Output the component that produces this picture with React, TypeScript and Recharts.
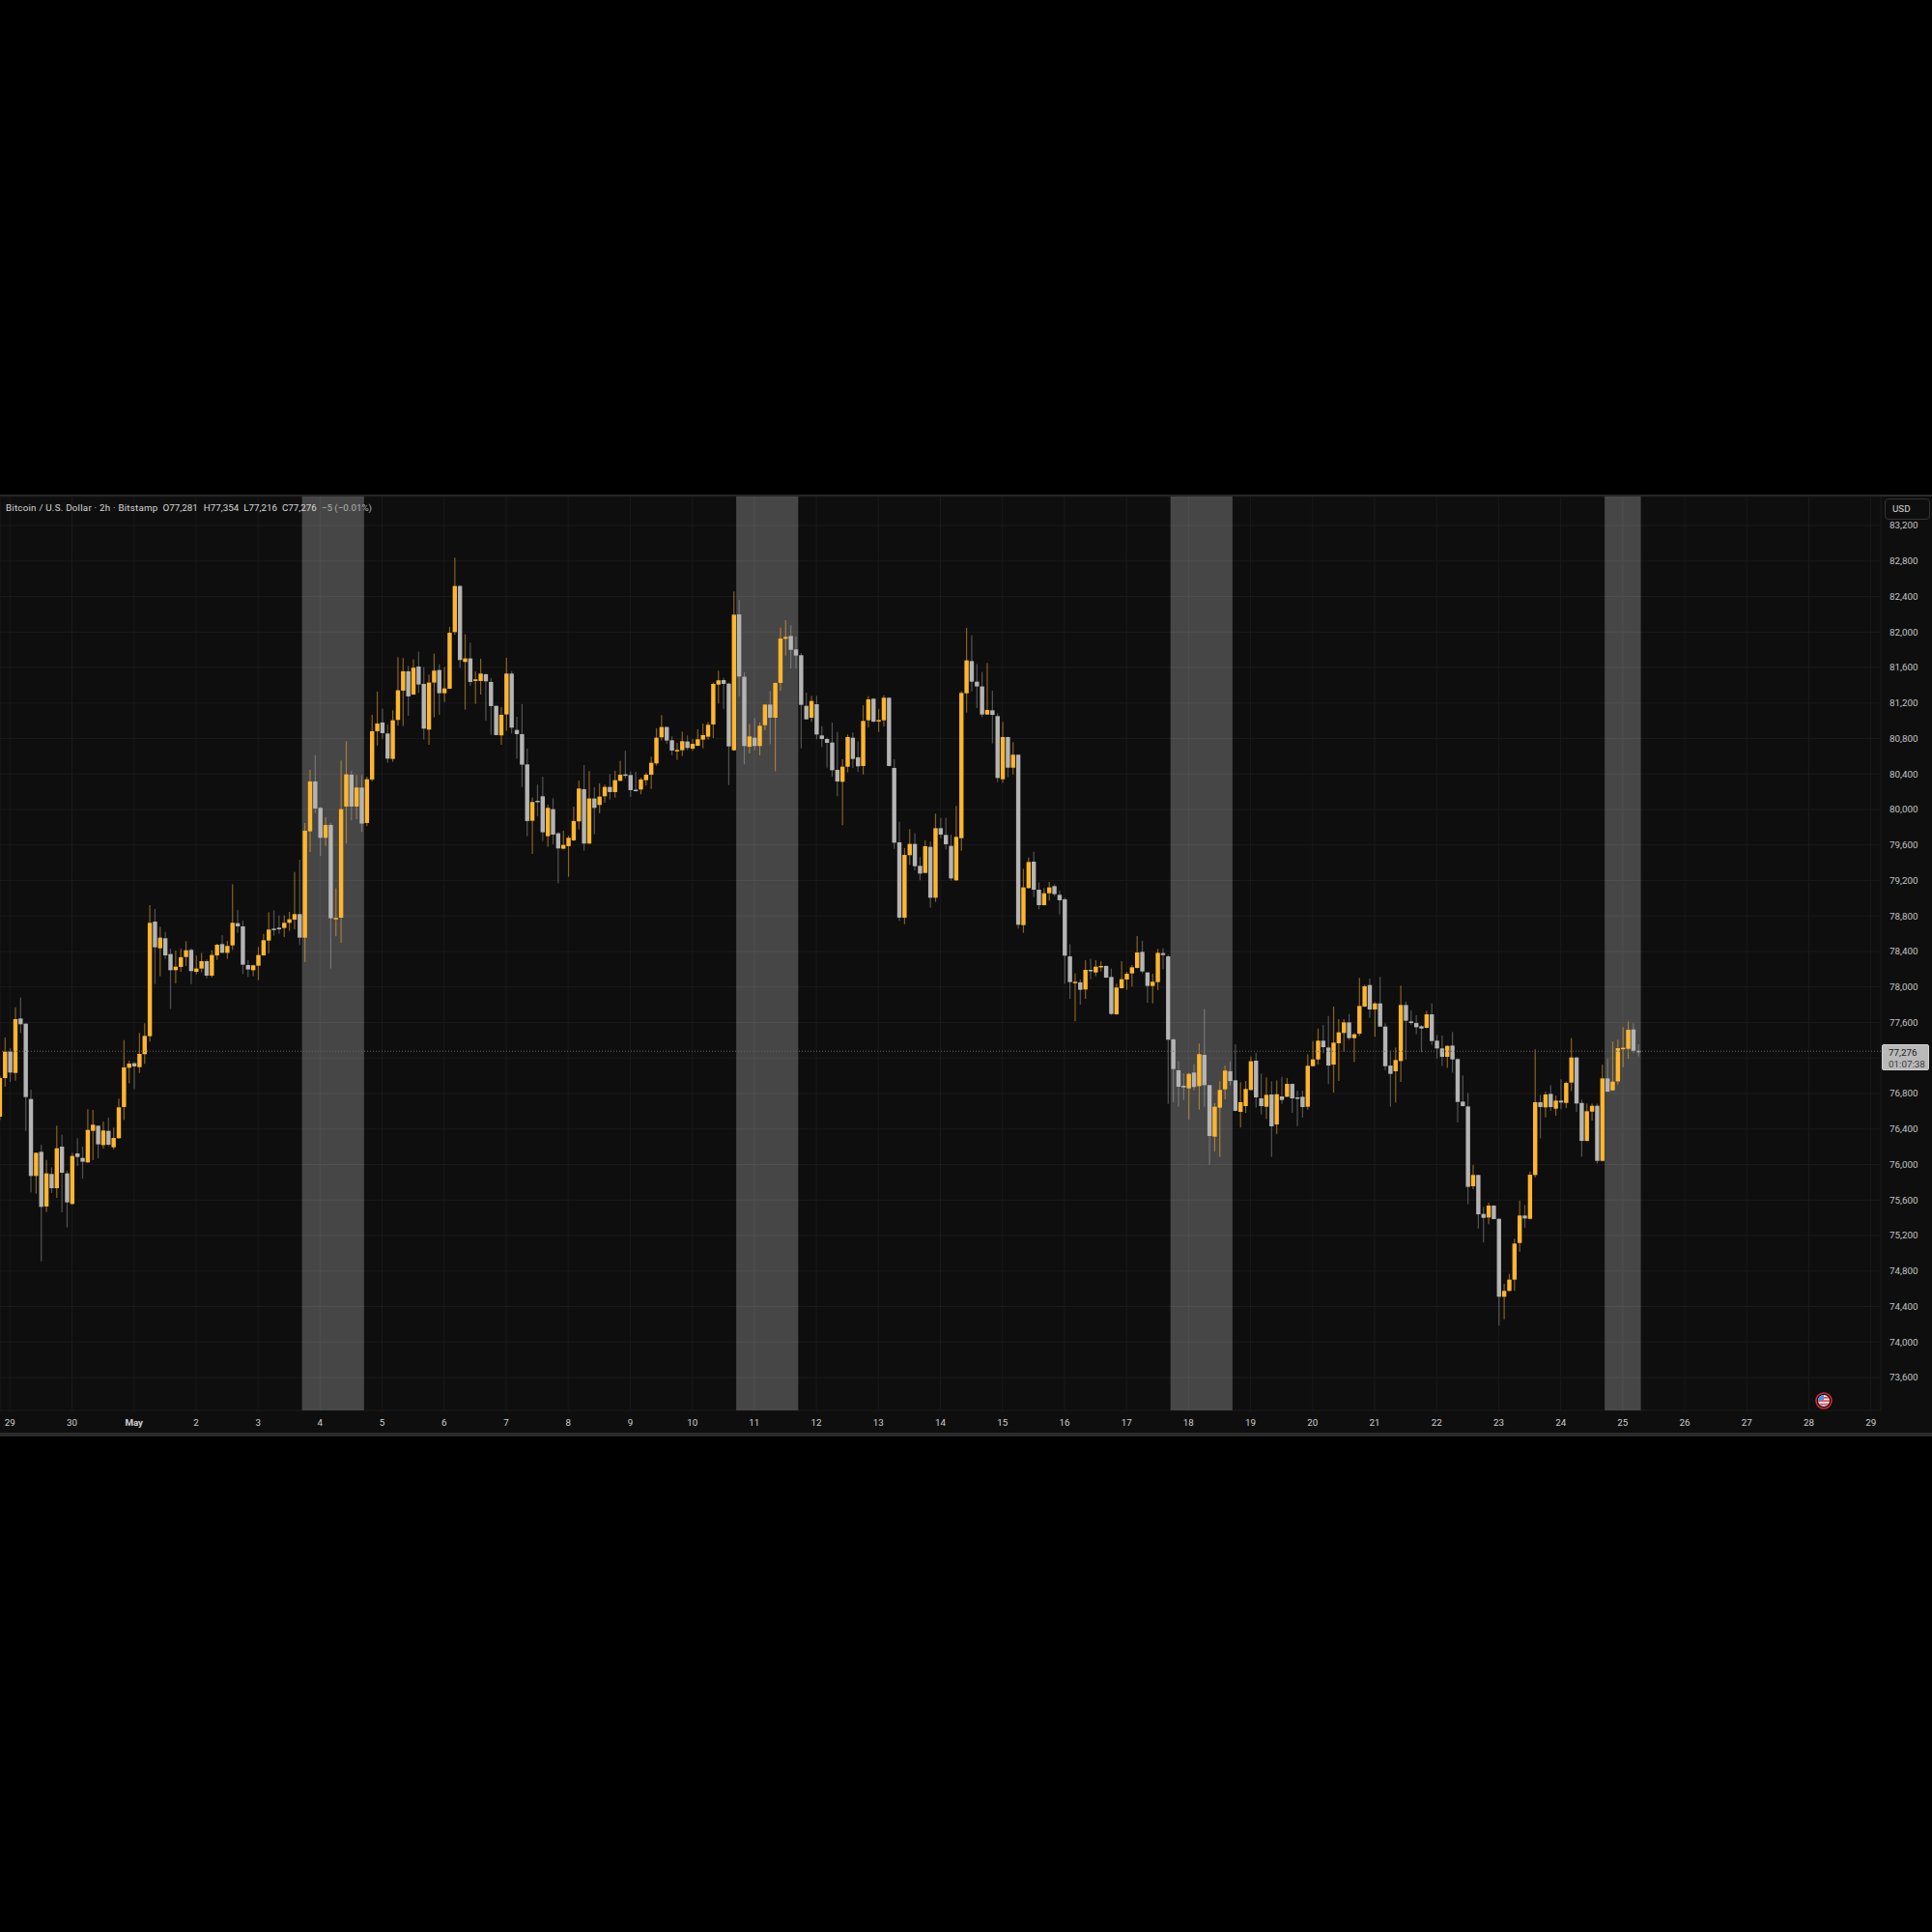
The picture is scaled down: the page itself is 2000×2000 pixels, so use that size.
import { Bar, CartesianGrid, ComposedChart, ReferenceArea, ReferenceLine, XAxis, YAxis } from "recharts";

// 2h candles. Index 2 is Apr 29 00:00, 12 candles per day.
const opens = [
  76539,76974,77272,77032,77645,77587,76738,75871,76143,75527,
  75893,75733,76201,75900,75556,76125,76074,76024,76379,76437,
  76219,76379,76194,76296,76648,77090,77141,77097,77243,77446,
  78737,78436,78549,78371,78189,78226,78338,78418,78171,78208,
  78291,78128,78356,78483,78385,78469,78719,78683,78247,78189,
  78240,78356,78523,78657,78668,78665,78723,78759,78821,78556,
  79754,80316,80018,79681,79826,78774,78781,80033,80392,80033,
  80247,79848,80338,80882,80980,80856,80570,81009,81339,81557,
  81295,81611,81415,80900,81430,81571,81310,81361,81999,82518,
  81662,81702,81448,81448,81524,81437,81168,80835,81071,81531,
  80896,80849,80508,79873,80098,80149,79699,80004,79732,79558,
  79587,79652,79866,80229,79616,80124,80051,80149,80254,80196,
  80323,80396,80388,80222,80225,80330,80392,80519,80813,80929,
  80780,80664,80668,80766,80686,80718,80787,80820,80958,81407,
  81458,81418,80667,82198,81495,80707,80809,80715,80950,81182,
  81034,81426,81923,81955,81803,81738,81168,81034,81186,80834,
  80794,80754,80446,80312,80482,80809,80588,80490,81005,81248,
  80997,81005,81259,80468,79630,78781,79485,79612,79365,79285,
  79579,79006,79789,79713,79590,79202,79677,81309,81672,81440,
  81386,81070,81117,81052,80341,80816,80471,80617,78697,79115,
  79412,79096,78922,79056,79136,79038,78988,78345,78044,78052,
  77972,78193,78164,78229,78237,78113,77692,77986,78084,78153,
  78215,78396,78164,78012,78055,78382,78345,77409,77061,76887,
  76858,77036,76883,77235,76894,76314,76640,76847,77050,76949,
  76593,76658,76840,77170,76746,76651,76789,76451,76767,76763,
  76908,76756,76763,76651,77108,77184,77395,77318,77126,77366,
  77482,77601,77424,77474,77779,78022,77747,77815,77554,77115,
  77050,77166,77797,77612,77594,77558,77540,77692,77395,77308,
  77213,77340,77188,76709,76654,75755,75882,75443,75403,75537,
  75388,74510,74576,74703,75116,75425,75388,75882,76702,76644,
  76796,76629,76720,76694,76923,77206,76694,76266,76596,76662,
  76041,76970,76836,76937,77308,77304,77522,77281,
];

const closes = [
  76974,77272,77036,77638,77580,76760,75871,76132,75523,75900,
  75733,76183,75907,75574,76096,76085,76031,76390,76448,76227,
  76383,76223,76299,76644,77094,77137,77105,77246,77449,78723,
  78447,78556,78356,78189,78229,78335,78414,78179,78208,78291,
  78128,78360,78476,78385,78462,78723,78683,78251,78197,78244,
  78360,78527,78647,78650,78650,78723,78763,78821,78556,79761,
  80316,80011,79681,79826,78774,78778,80004,80396,80033,80247,
  79841,80341,80882,80969,80860,80573,81005,81343,81557,81274,
  81597,81408,80911,81430,81564,81310,81364,81992,82518,81684,
  81702,81437,81466,81531,81444,81165,80838,81067,81531,80922,
  80849,80505,79870,80084,80091,79743,80018,79717,79561,79601,
  79681,79870,80236,79616,80124,80018,80145,80254,80196,80330,
  80392,80385,80218,80211,80338,80392,80526,80809,80929,80777,
  80664,80671,80769,80693,80740,80791,80838,80954,81415,81455,
  81415,80711,82195,81498,80715,80823,80715,80943,81182,81034,
  81426,81926,81944,81799,81734,81179,81016,81222,80845,80794,
  80751,80442,80315,80482,80816,80569,80486,80997,81241,80990,
  81008,81259,80490,79626,78781,79488,79612,79361,79278,79586,
  79006,79789,79717,79608,79223,79691,81313,81680,81440,81386,
  81070,81121,81066,80355,80816,80471,80617,78701,79122,79408,
  79096,78922,79056,79122,79046,78977,78353,78055,78059,77968,
  78193,78182,78229,78237,78106,77696,77994,78088,78150,78222,
  78389,78175,78012,78059,78385,78360,77406,77076,76876,76869,
  77021,76873,77243,76894,76321,76651,76840,77058,76941,76604,
  76702,76851,77163,76756,76658,76785,76430,76792,76727,76908,
  76745,76749,76647,77112,77184,77395,77322,77115,77373,77489,
  77601,77424,77467,77786,78008,77747,77815,77554,77108,77021,
  77177,77797,77620,77594,77547,77532,77692,77391,77308,77213,
  77337,77184,76705,76658,75748,75882,75439,75399,75537,75385,
  74510,74576,74703,75109,75425,75392,75885,76702,76647,76789,
  76647,76720,76698,76919,77206,76687,76266,76600,76662,76041,
  76970,76821,76934,77311,77315,77518,77281,77276,
];

const highs = [
  77000,77431,77312,77772,77881,77590,76843,76135,76223,76053,
  75969,76437,76336,75933,76132,76296,76201,76622,76615,76441,
  76484,76528,76415,76742,77402,77170,77155,77482,77591,78922,
  78879,78679,78621,78433,78411,78433,78516,78436,78353,78385,
  78313,78414,78487,78585,78520,79158,78868,78745,78302,78251,
  78451,78599,78842,78864,78806,78806,78846,79296,79434,79848,
  80446,80613,80029,79913,79848,79111,80552,80769,80436,80388,
  80388,80370,81067,81328,81136,80958,81118,81716,81705,81618,
  81691,81778,81607,81520,81756,81636,81604,82057,82837,82529,
  81974,81880,81557,81698,81531,81480,81170,81154,81709,81560,
  81045,81187,80686,80134,80280,80370,80055,80127,79743,79761,
  79706,80033,80327,80501,80432,80251,80294,80280,80399,80436,
  80548,80661,80428,80425,80359,80414,80595,80915,81063,80936,
  80827,80751,80878,80835,80795,80903,80968,80987,81429,81563,
  81484,81429,82456,82362,81545,80965,81030,80979,81185,81335,
  81430,82050,82133,82075,81948,81763,81317,81280,81280,80939,
  80809,80979,80874,80566,80845,80867,80769,81175,81277,81255,
  81132,81288,81266,80566,79862,79564,79778,79731,79463,79651,
  79641,79953,79905,79905,79717,80040,81335,82046,81963,81640,
  81549,81651,81338,81085,80987,80820,80758,80620,79332,79459,
  79524,79180,79115,79183,79158,79086,79006,78483,78153,78084,
  78302,78320,78302,78291,78244,78208,78037,78291,78171,78248,
  78574,78520,78168,78150,78429,78436,78364,77424,77166,77029,
  77032,77130,77362,77750,76898,76691,76938,77116,77163,77355,
  76927,76941,77217,77257,77025,76981,76937,76948,76988,76974,
  76912,76832,76832,77242,77391,77532,77572,77674,77779,77638,
  77638,77696,77482,78102,78026,78095,77830,78113,77591,77286,
  77318,78015,77837,77739,77681,77572,77732,77815,77460,77453,
  77340,77493,77195,77003,76807,75994,75885,75523,75570,75544,
  75395,74656,74768,75163,75592,75544,75922,77297,76785,76821,
  76894,76778,76959,76934,77424,77210,76734,76687,76687,76687,
  77126,77191,77387,77406,77547,77612,77591,77354,
];

const lows = [
  76500,76876,76931,76945,77482,76379,75686,75672,74910,75465,
  75679,75624,75461,75291,75545,75984,75842,76016,76049,76071,
  76180,76205,76169,76292,76502,76916,76851,77032,77134,77384,
  78033,78121,78316,77754,78041,78171,78237,78033,78142,78164,
  78099,78106,78306,78382,78316,78418,78610,78146,78113,78121,
  78077,78353,78378,78578,78599,78563,78632,78650,78473,78280,
  79521,79957,79474,79590,78208,78571,78498,79616,79877,79891,
  79746,79812,80316,80719,80795,80526,80537,80944,80940,81056,
  81292,81314,80788,80729,81038,81067,81212,81357,81970,81597,
  81125,81393,81190,81295,81002,80842,80835,80729,80885,80856,
  80573,80254,79699,79500,79924,79645,79579,79608,79169,79550,
  79242,79645,79775,79536,79612,79721,79957,80076,80113,80134,
  80319,80352,80142,80203,80171,80269,80232,80494,80777,80740,
  80613,80559,80602,80668,80661,80715,80689,80787,80805,81193,
  81132,80275,80660,81273,80508,80631,80667,80609,80892,80736,
  80431,81338,81734,81589,81589,80689,81012,80987,80791,80704,
  80471,80370,80149,79822,80417,80468,80424,80395,80925,80976,
  80874,80936,80486,79557,78744,78708,79376,79314,79202,79281,
  78893,78959,79673,79550,79198,79194,79535,81092,81331,81143,
  81041,81066,80744,80308,80301,80363,80395,78657,78610,79107,
  79013,78875,78919,78973,79020,78817,78037,77867,77613,77801,
  77867,78088,78121,78175,78099,77685,77688,77983,77968,78004,
  78208,78153,77823,77816,77965,78200,76684,76702,76651,76727,
  76506,76836,76619,76651,75998,76147,76085,76735,76891,76600,
  76415,76582,76833,76640,76564,76513,76085,76343,76684,76760,
  76582,76433,76528,76618,77104,77126,77253,76905,76811,76941,
  77271,77402,77155,77449,77776,77652,77438,77550,77064,76651,
  76698,76930,77181,77572,77467,77264,77532,77347,77195,77112,
  77090,77035,76473,76654,75552,75722,75279,75123,75327,75381,
  74184,74256,74572,74576,75018,75287,75384,75856,76295,76531,
  76604,76549,76622,76636,76825,76593,76089,76262,76495,76012,
  76034,76818,76829,76901,77097,77191,77257,77216,
];

// weekend session bands, in candle indexes
const bandStarts = [58.5, 142.5, 226.5, 310.5];
const bandEnds = [70.5, 154.5, 238.5, 317.5];

const dayLabels = [
  "29", "30", "May", "2", "3", "4", "5", "6", "7", "8", "9", "10", "11", "12", "13", "14",
  "15", "16", "17", "18", "19", "20", "21", "22", "23", "24", "25", "26", "27", "28", "29",
];
const dayTicks = [
  2, 14, 26, 38, 50, 62, 74, 86, 98, 110, 122, 134, 146, 158, 170, 182,
  194, 206, 218, 230, 242, 254, 266, 278, 290, 302, 314, 326, 338, 350, 362,
];
const priceTicks = [
  73600, 74000, 74400, 74800, 75200, 75600, 76000, 76400, 76800, 77200, 77600, 78000, 78400,
  78800, 79200, 79600, 80000, 80400, 80800, 81200, 81600, 82000, 82400, 82800, 83200,
];
const lastPrice = 77276;
// this tick sits behind the last price tag, only its grid line shows
const coveredTick = 77200;

const FONT = "Roboto, sans-serif";
const data = opens.map((open, i) => ({
  i,
  open,
  close: closes[i],
  range: [lows[i], highs[i]] as [number, number],
}));

function Candle({ x, y, width, height, payload }: any) {
  const [low, high] = payload.range;
  const up = payload.close >= payload.open;
  const perUnit = height / (high - low);
  const top = y + (high - Math.max(payload.open, payload.close)) * perUnit;
  const bodyH = Math.max(Math.abs(payload.close - payload.open) * perUnit, 1.5);
  const cx = x + width / 2;
  return (
    <g>
      <rect x={cx - 0.6} y={y} width={1.2} height={height} fill={up ? "#ffb62e" : "#c4c4c4"} fillOpacity={up ? 0.5 : 0.38} />
      <rect x={cx - 2.2} y={top} width={4.4} height={bodyH} fill={up ? "#ffb62e" : "#b4b4b4"} />
    </g>
  );
}

function DayTick({ x, y, payload, index }: any) {
  const label = dayLabels[index] ?? String(payload.value);
  return (
    <text x={x} y={y} dy={8} textAnchor="middle" fontFamily={FONT} fontSize={9.8}
      fontWeight={label === "May" ? 700 : 400} fill="#cfcfcf">
      {label}
    </text>
  );
}

function FlagIcon() {
  return (
    <svg width={18} height={18} viewBox="0 0 18 18" style={{ position: "absolute", left: 1879, top: 1441 }}>
      <defs>
        <clipPath id="flag"><circle cx={9} cy={9} r={6} /></clipPath>
      </defs>
      <g clipPath="url(#flag)">
        <rect width={18} height={18} fill="#f2f2f2" />
        <rect y={5} width={18} height={1.7} fill="#e5434d" />
        <rect y={8.4} width={18} height={1.7} fill="#e5434d" />
        <rect y={11.8} width={18} height={1.7} fill="#e5434d" />
        <rect width={9} height={9} fill="#4f8fe6" />
      </g>
      <circle cx={9} cy={9} r={8} fill="none" stroke="#d92c3a" strokeWidth={1.5} />
    </svg>
  );
}

export default function App() {
  return (
    <div style={{ position: "absolute", left: 0, top: 0, width: 2000, height: 2000, background: "#000", fontFamily: FONT }}>
      <div style={{ position: "absolute", left: 0, top: 512, width: 2000, height: 975, background: "#0e0e0e",
        borderTop: "2px solid #2a2a2a", borderBottom: "4px solid #2a2a2a", boxSizing: "border-box" }} />
      <div style={{ position: "absolute", left: 0, top: 0 }}>
        <ComposedChart width={2000} height={2000} data={data} barSize={4}
          margin={{ top: 514, right: 0, bottom: 517, left: 0 }}>
          <CartesianGrid stroke="#1a1a1a" />
          <XAxis dataKey="i" type="number" domain={[0.075, 363.92]} allowDataOverflow ticks={dayTicks} interval={0}
            axisLine={false} tickLine={false} height={23} tick={<DayTick />} />
          <YAxis orientation="right" width={53} domain={[73230, 83526]} allowDataOverflow ticks={priceTicks} interval={0}
            axisLine={false} tickLine={false} tickMargin={3}
            tick={{ fontFamily: FONT, fontSize: 9.8, fill: "#c4c4c4" }}
            tickFormatter={(v) => (v === coveredTick ? "" : v.toLocaleString("en-US"))} />
          {bandStarts.map((start, k) => (
            <ReferenceArea key={start} x1={start} x2={bandEnds[k]} fill="#ffffff" fillOpacity={0.235} stroke="none" />
          ))}
          <ReferenceLine y={lastPrice} stroke="#666666" strokeDasharray="1 2" />
          <Bar dataKey="range" shape={<Candle />} isAnimationActive={false} />
        </ComposedChart>
      </div>
      <div style={{ position: "absolute", left: 6, top: 520, fontSize: 9.8, lineHeight: "12px", color: "#d6d6d6", whiteSpace: "pre" }}>
        <span style={{ letterSpacing: 0.22 }}>Bitcoin / U.S. Dollar · 2h · Bitstamp</span>
        <span style={{ marginLeft: 5 }}>O77,281</span>
        <span style={{ marginLeft: 6 }}>H77,354</span>
        <span style={{ marginLeft: 5 }}>L77,216</span>
        <span style={{ marginLeft: 5 }}>C77,276</span>
        <span style={{ marginLeft: 5, color: "#b0b0b0" }}>−5 (−0.01%)</span>
      </div>
      <div style={{ position: "absolute", left: 1951, top: 516, width: 47, height: 22, boxSizing: "border-box", background: "#0e0e0e",
        border: "1px solid #333", borderRadius: 4, fontSize: 9.8, color: "#d6d6d6", lineHeight: "20px", paddingLeft: 7 }}>USD</div>
      <div style={{ position: "absolute", left: 1948, top: 1081, width: 49, height: 27, boxSizing: "border-box", background: "#b9b9b9",
        border: "1px solid #cfcfcf", borderRadius: 2, fontSize: 9.8, lineHeight: "11.5px", paddingLeft: 6, paddingTop: 2 }}>
        <div style={{ color: "#1c1c1c" }}>77,276</div>
        <div style={{ color: "#3c3c3c" }}>01:07:38</div>
      </div>
      <FlagIcon />
    </div>
  );
}
